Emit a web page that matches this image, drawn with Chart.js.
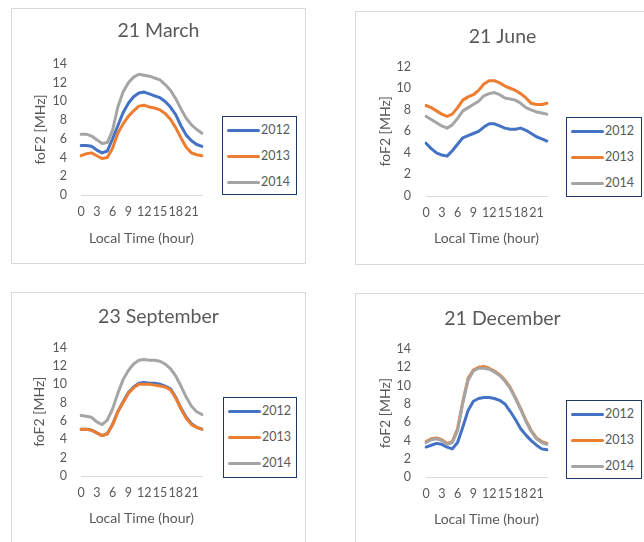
<!DOCTYPE html>
<html>
<head>
<meta charset="UTF-8">
<title>foF2 local time</title>
<script src="https://cdn.jsdelivr.net/npm/chart.js@4.4.1/dist/chart.umd.min.js"></script>
<style>
  html, body {
    margin: 0;
    padding: 0;
    width: 644px;
    height: 542px;
    overflow: hidden;
    background: #ffffff;
    font-family: Lato, sans-serif;
  }
  .frame {
    position: absolute;
    box-sizing: border-box;
    border: 1px solid #d9d9d9;
    background: #ffffff;
  }
  canvas {
    position: absolute;
  }
  .legend {
    position: absolute;
    box-sizing: border-box;
    border: 1px solid #203864;
    background: #ffffff;
  }
  .legend-item {
    height: 26px;
    line-height: 26px;
    white-space: nowrap;
    font-size: 12.5px;
    color: #595959;
  }
  .legend-line {
    display: inline-block;
    width: 33px;
    height: 3px;
    border-radius: 2px;
    vertical-align: middle;
    margin-left: 4px;
    margin-right: 1px;
  }
</style>
</head>
<body>
<script>

// hours of the day (category axis)
const HOURS = ['0','1','2','3','4','5','6','7','8','9','10','11',
  '12','13','14','15','16','17','18','19','20','21','22','23'];
const SERIES_NAMES = ['2012', '2013', '2014'];
const SERIES_COLORS = ['#4472c4', '#ed7d31', '#a5a5a5'];

// foF2 [MHz]
const MARCH_2012 = [5.3,5.3,5.2,4.8,4.5,4.7,6.0,7.4,8.8,9.8,10.5,10.9,11.0,10.8,10.6,10.4,10.0,9.4,8.6,7.4,6.4,5.8,5.4,5.2];
const MARCH_2013 = [4.2,4.4,4.5,4.2,3.9,4.0,5.0,6.6,7.6,8.4,9.0,9.5,9.6,9.4,9.3,9.1,8.7,8.1,7.2,6.1,5.1,4.5,4.3,4.2];
const MARCH_2014 = [6.5,6.5,6.3,5.9,5.5,5.6,6.9,9.4,11.0,12.0,12.6,12.9,12.8,12.7,12.5,12.3,11.8,11.2,10.3,9.2,8.2,7.5,7.0,6.6];

const JUNE_2012 = [4.9,4.4,4.0,3.8,3.7,4.2,4.8,5.4,5.6,5.8,6.0,6.4,6.7,6.7,6.5,6.3,6.2,6.2,6.3,6.1,5.8,5.5,5.3,5.1];
const JUNE_2013 = [8.4,8.2,7.9,7.6,7.4,7.6,8.2,8.9,9.2,9.4,9.8,10.4,10.7,10.7,10.5,10.2,10.0,9.8,9.5,9.1,8.6,8.5,8.5,8.6];
const JUNE_2014 = [7.4,7.1,6.8,6.5,6.3,6.6,7.2,7.9,8.2,8.5,8.8,9.3,9.5,9.6,9.4,9.1,9.0,8.9,8.6,8.2,8.0,7.8,7.7,7.6];

const SEPT_2012 = [5.1,5.1,5.0,4.7,4.4,4.6,5.6,7.0,8.1,9.1,9.7,10.1,10.2,10.1,10.1,10.0,9.8,9.5,8.6,7.4,6.4,5.7,5.3,5.1];
const SEPT_2013 = [5.1,5.1,5.0,4.7,4.4,4.6,5.6,7.0,8.0,9.0,9.6,10.0,10.0,10.0,9.9,9.8,9.7,9.4,8.5,7.3,6.3,5.6,5.3,5.1];
const SEPT_2014 = [6.6,6.5,6.4,5.9,5.6,6.1,7.3,9.0,10.5,11.5,12.2,12.6,12.7,12.6,12.6,12.5,12.2,11.7,10.9,9.8,8.6,7.6,7.0,6.7];

const DEC_2012 = [3.3,3.5,3.7,3.6,3.3,3.1,3.8,5.5,7.3,8.3,8.6,8.7,8.7,8.6,8.4,8.0,7.2,6.3,5.3,4.6,4.0,3.5,3.1,3.0];
const DEC_2013 = [3.9,4.2,4.3,4.1,3.7,3.9,5.3,8.3,10.8,11.7,12.0,12.1,11.9,11.6,11.2,10.6,9.8,8.7,7.5,6.2,5.1,4.3,3.9,3.7];
const DEC_2014 = [3.8,4.1,4.2,4.0,3.6,3.8,5.1,8.1,10.6,11.6,11.9,11.9,11.8,11.5,11.1,10.5,9.7,8.6,7.4,6.1,5.0,4.2,3.8,3.6];

// page layout of the four panels (px)
const PANELS = [
  { title: '21 March', values: [MARCH_2012, MARCH_2013, MARCH_2014], yMax: 14,
    x: 11, y: 8, w: 295, h: 256, plot: { l: 81, r: 202, t: 64, b: 195 },
    titleY: 31, yTitleX: 40, labelRight: 67, xTickY: 212, xTitleY: 238,
    legend: { x: 222, y: 116, w: 75, h: 79 } },
  { title: '21 June', values: [JUNE_2012, JUNE_2013, JUNE_2014], yMax: 12,
    x: 355, y: 11, w: 295, h: 254, plot: { l: 426, r: 547, t: 66.7, b: 196 },
    titleY: 37, yTitleX: 385, labelRight: 411, xTickY: 213, xTitleY: 238,
    legend: { x: 566, y: 117, w: 76, h: 80 } },
  { title: '23 September', values: [SEPT_2012, SEPT_2013, SEPT_2014], yMax: 14,
    x: 11, y: 292, w: 295, h: 256, plot: { l: 81, r: 202, t: 347.5, b: 476 },
    titleY: 317, yTitleX: 39, labelRight: 67, xTickY: 493, xTitleY: 518,
    legend: { x: 223, y: 397, w: 74, h: 81 } },
  { title: '21 December', values: [DEC_2012, DEC_2013, DEC_2014], yMax: 14,
    x: 355, y: 293, w: 295, h: 256, plot: { l: 426, r: 547, t: 349, b: 477.3 },
    titleY: 319, yTitleX: 385, labelRight: 411, xTickY: 494, xTitleY: 519,
    legend: { x: 566, y: 400, w: 76, h: 79 } },
];

const TEXT_COLOR = '#595959';
const TITLE_SIZE = 19.5;
const AXIS_TITLE_SIZE = 14;
const TICK_SIZE = 12.5;

function makePanel(p) {
  const frame = document.createElement('div');
  frame.className = 'frame';
  frame.style.left = p.x + 'px';
  frame.style.top = p.y + 'px';
  frame.style.width = p.w + 'px';
  frame.style.height = p.h + 'px';
  document.body.appendChild(frame);

  const canvas = document.createElement('canvas');
  canvas.width = p.w;
  canvas.height = p.h;
  canvas.style.left = p.x + 'px';
  canvas.style.top = p.y + 'px';
  canvas.style.width = p.w + 'px';
  canvas.style.height = p.h + 'px';
  document.body.appendChild(canvas);

  const titleLine = TITLE_SIZE * 1.2;
  const titleTop = p.titleY - p.y - titleLine / 2;
  const titleBottom = (p.plot.t - p.y) - (titleTop + titleLine);
  const axisLine = AXIS_TITLE_SIZE * 1.2;
  const tickLine = TICK_SIZE * 1.2;

  const chart = new Chart(canvas, {
    type: 'line',
    data: {
      labels: HOURS,
      datasets: SERIES_NAMES.map((name, i) => ({
        label: name,
        data: p.values[i],
        borderColor: SERIES_COLORS[i],
        backgroundColor: SERIES_COLORS[i],
        borderWidth: 3,
        borderCapStyle: 'round',
        borderJoinStyle: 'round',
        pointRadius: 0,
        tension: 0,
        fill: false,
        order: SERIES_NAMES.length - i,
      })),
    },
    options: {
      responsive: false,
      animation: false,
      events: [],
      layout: { padding: 0 },
      plugins: {
        legend: { display: false },
        tooltip: { enabled: false },
        title: {
          display: true,
          text: p.title,
          color: TEXT_COLOR,
          font: { size: TITLE_SIZE, weight: 'normal' },
          padding: { top: titleTop, bottom: titleBottom },
        },
      },
      scales: {
        x: {
          grid: { display: false, drawTicks: false },
          border: { display: true, color: '#d9d9d9', width: 1 },
          ticks: {
            autoSkip: false,
            maxRotation: 0,
            minRotation: 0,
            color: TEXT_COLOR,
            font: { size: TICK_SIZE },
            padding: p.xTickY - p.plot.b - tickLine / 2,
            callback: (v, i) => (i % 3 === 0 ? HOURS[i] : ''),
          },
          title: {
            display: true,
            text: 'Local Time (hour)',
            color: TEXT_COLOR,
            font: { size: AXIS_TITLE_SIZE },
            padding: { top: 0, bottom: p.y + p.h - p.xTitleY - axisLine / 2 },
          },
          afterFit: (s) => { s.height = p.y + p.h - p.plot.b; },
        },
        y: {
          min: 0,
          max: p.yMax,
          grid: { display: false, drawTicks: false },
          border: { display: false },
          ticks: {
            stepSize: 2,
            color: TEXT_COLOR,
            font: { size: TICK_SIZE },
            padding: p.plot.l - p.labelRight,
          },
          title: {
            display: true,
            text: 'foF2 [MHz]',
            color: TEXT_COLOR,
            font: { size: AXIS_TITLE_SIZE },
            padding: { top: p.yTitleX - p.x - axisLine / 2, bottom: 0 },
          },
          afterFit: (s) => { s.width = p.plot.l - p.x; },
        },
        // empty right-hand axis: reserves the room where the legend sits
        side: {
          type: 'linear',
          position: 'right',
          display: true,
          min: 0,
          max: p.yMax,
          grid: { display: false, drawTicks: false },
          border: { display: false },
          ticks: { display: false },
          afterFit: (s) => { s.width = p.x + p.w - p.plot.r; },
        },
      },
    },
  });

  // legend box built from the chart's datasets
  const legend = document.createElement('div');
  legend.className = 'legend';
  legend.style.left = p.legend.x + 'px';
  legend.style.top = p.legend.y + 'px';
  legend.style.width = p.legend.w + 'px';
  legend.style.height = p.legend.h + 'px';
  chart.data.datasets.forEach((ds) => {
    const item = document.createElement('div');
    item.className = 'legend-item';
    const line = document.createElement('span');
    line.className = 'legend-line';
    line.style.background = ds.borderColor;
    const label = document.createElement('span');
    label.textContent = ds.label;
    item.appendChild(line);
    item.appendChild(label);
    legend.appendChild(item);
  });
  document.body.appendChild(legend);
}

Chart.defaults.font.family = 'Lato, sans-serif';
Chart.defaults.color = TEXT_COLOR;

document.fonts.load('12px Lato').then(() => {
  PANELS.forEach(makePanel);
}, () => {
  PANELS.forEach(makePanel);
});
</script>
</body>
</html>
